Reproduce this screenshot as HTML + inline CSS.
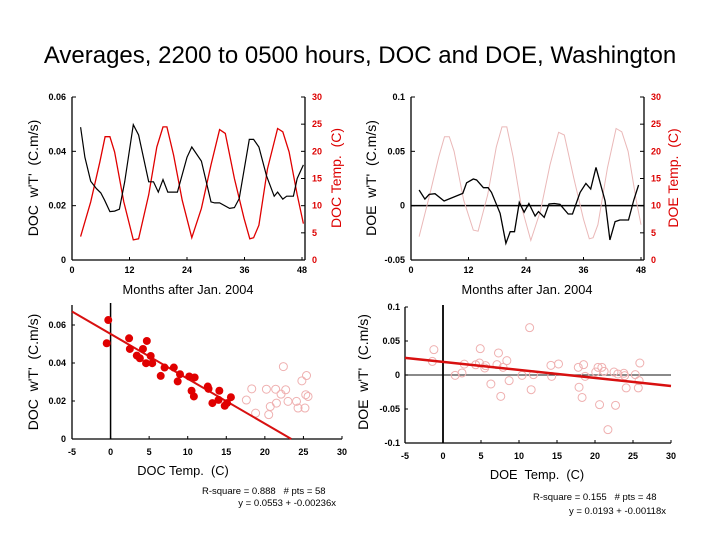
<!DOCTYPE html>
<html><head><meta charset="utf-8"><style>
body{margin:0;background:#fff}
svg{display:block;font-family:"Liberation Sans",sans-serif}
svg text{white-space:pre}
</style></head><body>
<svg id="c" width="720" height="540" viewBox="0 0 720 540">
<text x="360" y="63" text-anchor="middle" font-size="24" fill="#000">Averages, 2200 to 0500 hours, DOC and DOE, Washington</text>
</svg>
<script>
// ---- data ----
const docMonths=[1.8,2.7,3.9,5.1,6,6.8,7.9,8.9,9.9,11,12.8,13.9,16,17,18,19,20,22,24,25,27,29,29.8,30.8,32.9,33.9,34.9,37,37.9,39,40.6,42.2,42.9,44,44.8,46.2,47,48.3];
const docFlux=[0.0489,0.0378,0.029,0.0263,0.0247,0.022,0.0178,0.018,0.0187,0.0288,0.0498,0.046,0.0288,0.0288,0.025,0.0296,0.025,0.025,0.0378,0.0416,0.0364,0.0214,0.021,0.021,0.019,0.0193,0.0226,0.0444,0.0444,0.0416,0.031,0.0235,0.025,0.0224,0.0235,0.0235,0.03,0.035];
const docTempMonths=[1.8,3.9,5.8,6.9,7.9,8.9,10.8,12.8,13.9,16,17.7,19,19.8,21.2,23,25,27,29,30.8,32,33.9,35.9,37.1,37.9,39,40.8,42.9,44,45.3,47,48.3];
const docTemp=[4.3,10.7,18,22.7,22.7,19.9,10.7,3.7,3.9,12,20.8,24.5,24.5,19.3,11,4.1,9.5,17.5,24,23.3,15,7.7,3.9,4.1,6.4,16.8,24.2,23.6,19.9,12,6.7];
const doeMonths=[1.7,2.9,3.8,5,6.9,10.8,11.6,13,13.7,15.1,16.1,16.8,18.6,19.8,20.7,21.6,22.6,23.6,24.6,25.9,26.6,27.8,28.8,29.9,31.1,32.8,33.7,35.3,36.5,37.5,38.6,40.5,41.5,42.6,43.6,45.4,46.5,47.5];
const doeFlux=[0.0144,0.006,0.0104,0.011,0.0043,0.0113,0.021,0.0245,0.0236,0.0165,0.0165,0.0122,-0.007,-0.0346,-0.024,-0.024,0.003,-0.006,0.002,-0.0095,-0.0055,-0.0107,0.0015,0.002,0.0012,-0.0077,-0.0077,0.0122,0.0205,0.0153,0.0352,0.0043,-0.0315,-0.0147,-0.0132,-0.0132,0.0052,0.019];
const doeTempMonths=[1.7,3.9,5.8,7,8,9,11,13,14,16,17.8,19,20,21.3,23,25,27,29,30.8,32,34,36,37.2,38,39,41,42.8,44,45.3,47,48];
const doeTemp=[4.3,12,19,22.7,22.7,20,11,5.5,5.3,12,20.8,24.5,24.5,19,10,3.6,9,17.5,23.5,23,15,7.5,3.9,4.1,6.5,17,24.2,23.6,20,11,6.5];
const docScatT=[-0.3,-0.5,2.4,2.5,4.2,3.4,4.7,3.8,5.2,4.6,5.4,6.5,7,8.2,9,8.7,10.2,10.9,10.5,10.8,12.6,12.7,14.1,14,13.2,14.8,15.1,15.6];
const docScatF=[0.0626,0.0504,0.053,0.0474,0.0474,0.0439,0.0516,0.0425,0.0437,0.0399,0.0399,0.0332,0.0376,0.0376,0.0341,0.0303,0.0329,0.0324,0.0254,0.0224,0.0276,0.0264,0.0254,0.0206,0.0189,0.0175,0.0189,0.022];
const docOpenT=[17.6,18.3,18.8,20.2,20.5,20.7,21.4,21.5,22.1,22.4,22.7,23,24.1,24.3,24.8,25.4,25.2,25.3,25.6];
const docOpenF=[0.0205,0.0264,0.0136,0.0262,0.0128,0.0171,0.0262,0.0189,0.0236,0.0381,0.0259,0.0198,0.0198,0.0163,0.0306,0.0334,0.0163,0.0233,0.0224];
const doeScatT=[-1.2,-1.4,1.6,2.5,2.8,4.3,4.9,4.8,5.6,5.5,6.3,7.3,7.6,7.1,7.9,8.4,8.7,10.4,11.4,11.6,11.9,14.2,14.3,15.2,17.8,17.9,18.5,18.3,18.7,20.1,20.4,20.6,20.9,21.2,21.7,22.5,22.7,23,23.8,24.1,23.9,25.3,25.9,25.7,25.8];
const doeScatF=[0.0373,0.02,-0.0005,0.003,0.016,0.015,0.0387,0.0176,0.0137,0.0103,-0.0132,0.0324,-0.0314,0.0152,0.0113,0.0211,-0.0083,-0.0005,0.0696,-0.0216,0.0005,0.0142,-0.002,0.0162,0.0113,-0.018,0.0152,-0.033,-0.002,0.0044,0.0113,-0.0436,0.0113,0.0054,-0.0804,0.0044,-0.0446,0.0015,0.0025,-0.019,-0.001,0.0005,0.0176,-0.019,-0.0083];
const docFit=[0.0553,-0.00236];
const doeFit=[0.0193,-0.00118];
const monthTicks=[0,12,24,36,48];
const docFluxTicks=["0","0.02","0.04","0.06"];
const doeFluxTicks=["-0.05","0","0.05","0.1"];
const tempTicks=[0,5,10,15,20,25,30];
const scatXTicks=[-5,0,5,10,15,20,25,30];
const docScatYTicks=["0","0.02","0.04","0.06"];
const doeScatYTicks=["-0.1","-0.05","0","0.05","0.1"];

const svg=document.getElementById('c');
const NS='http://www.w3.org/2000/svg';
function mk(tag,attrs,txt){const e=document.createElementNS(NS,tag);for(const k in attrs)e.setAttribute(k,attrs[k]);if(txt!==undefined)e.textContent=txt;svg.appendChild(e);return e;}
function lin(d0,d1,r0,r1){return v=>r0+(v-d0)/(d1-d0)*(r1-r0);}
function line(x1,y1,x2,y2,st,w,name){const e=mk('line',{x1,y1,x2,y2,stroke:st,'stroke-width':w});

return e;}
function txt(x,y,s,opt,name){const e=mk('text',Object.assign({x,y,'font-size':9,'font-weight':'bold','text-anchor':'middle',fill:'#000'},opt||{}),s);

return e;}
function poly(xs,ys,sx,sy,col,w,name){const p=xs.map((v,i)=>sx(v).toFixed(1)+','+sy(ys[i]).toFixed(1)).join(' ');
const e=mk('polyline',{points:p,fill:'none',stroke:col,'stroke-width':w});

}
function vtitle(x,y,s,col,name){const e=mk('text',{x,y,'font-size':14,'text-anchor':'middle',fill:col,transform:`rotate(-90 ${x} ${y})`},s);

}

// ---- Top-left ----
{const sx=lin(0,48,72,302),sy=lin(0,0.06,260,97),st=lin(0,30,260,97);
line(72,97,72,260,'#000',1.3,'left-axis');line(72,260,305,260,'#000',1.3,'x-axis');line(305,97,305,260,'#000',1.3,'right-axis');
monthTicks.forEach(m=>{line(sx(m),260,sx(m),257,'#000',1,'x-tick');txt(sx(m),273,m,{},'x-tick-label');});
docFluxTicks.forEach(t=>{line(72,sy(+t),76,sy(+t),'#000',1,'y-tick');txt(66,sy(+t)+3,t,{'text-anchor':'end'},'y-tick-label');});
tempTicks.forEach(t=>{line(305,st(t),301,st(t),'#000',1,'y2-tick');txt(312,st(t)+3,t,{'text-anchor':'start',fill:'#d00'},'y2-tick-label');});
poly(docTempMonths,docTemp,sx,st,'#e00000',1.3,'doc-temp-line');
poly(docMonths,docFlux,sx,sy,'#000',1.2,'doc-flux-line');
txt(188,294,'Months after Jan. 2004',{'font-size':12.8,'font-weight':'normal'},'x-axis-title');
vtitle(38,178,"DOC  w'T'  (C.m/s)",'#000','y-axis-title');
vtitle(341,178,'DOC Temp.  (C)','#d00','y2-axis-title');}

// ---- Top-right ----
{const sx=lin(0,48,411,641),sy=lin(-0.05,0.1,260,97),st=lin(0,30,260,97);
line(411,97,411,260,'#000',1.3,'left-axis');line(411,260,644,260,'#000',1.3,'x-axis');line(644,97,644,260,'#000',1.3,'right-axis');
line(411,sy(0),644,sy(0),'#000',1.5,'zero-line');
monthTicks.forEach(m=>{line(sx(m),260,sx(m),257,'#000',1,'x-tick');txt(sx(m),273,m,{},'x-tick-label');});
doeFluxTicks.forEach(t=>{line(411,sy(+t),415,sy(+t),'#000',1,'y-tick');txt(405,sy(+t)+3,t,{'text-anchor':'end'},'y-tick-label');});
tempTicks.forEach(t=>{line(644,st(t),640,st(t),'#000',1,'y2-tick');txt(651,st(t)+3,t,{'text-anchor':'start',fill:'#d00'},'y2-tick-label');});
poly(doeTempMonths,doeTemp,sx,st,'#eab8b8',1,'doe-temp-line');
poly(doeMonths,doeFlux,sx,sy,'#000',1.3,'doe-flux-line');
txt(527,294,'Months after Jan. 2004',{'font-size':12.8,'font-weight':'normal'},'x-axis-title');
vtitle(376,178,"DOE  w'T'  (C.m/s)",'#000','y-axis-title');
vtitle(678,178,'DOE Temp.  (C)','#d00','y2-axis-title');}

// ---- Bottom-left ----
{const sx=lin(-5,30,72,342),sy=lin(0,0.06,439,325);
line(72,305,72,439,'#000',1.3,'left-axis');line(72,439,342,439,'#000',1.3,'x-axis');
line(sx(0),303,sx(0),439,'#000',1.5,'zero-vline');
scatXTicks.forEach(t=>{line(sx(t),439,sx(t),436,'#000',1,'x-tick');txt(sx(t),455,t,{},'x-tick-label');});
docScatYTicks.forEach(t=>{line(72,sy(+t),75,sy(+t),'#000',1,'y-tick');txt(66,sy(+t)+3,t,{'text-anchor':'end'},'y-tick-label');});
docOpenT.forEach((t,i)=>{const c=mk('circle',{cx:sx(t),cy:sy(docOpenF[i]),r:4,fill:'none',stroke:'#efb0b0','stroke-width':1});

});
const x2=-docFit[0]/docFit[1];
line(sx(-5),sy(docFit[0]+docFit[1]*-5),sx(x2),sy(0),'#d81010',2,'regression-line');
docScatT.forEach((t,i)=>{const c=mk('circle',{cx:sx(t),cy:sy(docScatF[i]),r:4,fill:'#e00000'});

});
txt(183,475,'DOC Temp.  (C)',{'font-size':12.8,'font-weight':'normal'},'x-axis-title');
vtitle(38,372,"DOC  w'T'  (C.m/s)",'#000','y-axis-title');
txt(202,494,'R-square = 0.888   # pts = 58',{'font-size':9.5,'font-weight':'normal','text-anchor':'start'},'stats-r-square');
txt(336,506,'y = 0.0553 + -0.00236x',{'font-size':9.5,'font-weight':'normal','text-anchor':'end'},'stats-equation');}

// ---- Bottom-right ----
{const sx=lin(-5,30,405,671),sy=lin(-0.1,0.1,443,307);
line(405,307,405,443,'#000',1.3,'left-axis');line(405,443,671,443,'#000',1.3,'x-axis');
line(405,sy(0),671,sy(0),'#444',1.2,'zero-line');
line(sx(0),305,sx(0),443,'#000',1.8,'zero-vline');
scatXTicks.forEach(t=>{line(sx(t),443,sx(t),440,'#000',1,'x-tick');txt(sx(t),459,t,{},'x-tick-label');});
doeScatYTicks.forEach(t=>{line(405,sy(+t),408,sy(+t),'#000',1,'y-tick');txt(400,sy(+t)+3,t,{'text-anchor':'end'},'y-tick-label');});
doeScatT.forEach((t,i)=>{const c=mk('circle',{cx:sx(t),cy:sy(doeScatF[i]),r:4,fill:'none',stroke:'#efb0b0','stroke-width':1});

});
line(sx(-5),sy(doeFit[0]+doeFit[1]*-5),sx(30),sy(doeFit[0]+doeFit[1]*30),'#d81010',2.5,'regression-line');
txt(537,479,'DOE  Temp.  (C)',{'font-size':12.8,'font-weight':'normal'},'x-axis-title');
vtitle(368,372,"DOE  w'T'  (C.m/s)",'#000','y-axis-title');
txt(533,500,'R-square = 0.155   # pts = 48',{'font-size':9.5,'font-weight':'normal','text-anchor':'start'},'stats-r-square');
txt(666,514,'y = 0.0193 + -0.00118x',{'font-size':9.5,'font-weight':'normal','text-anchor':'end'},'stats-equation');}
</script>
</body></html>
